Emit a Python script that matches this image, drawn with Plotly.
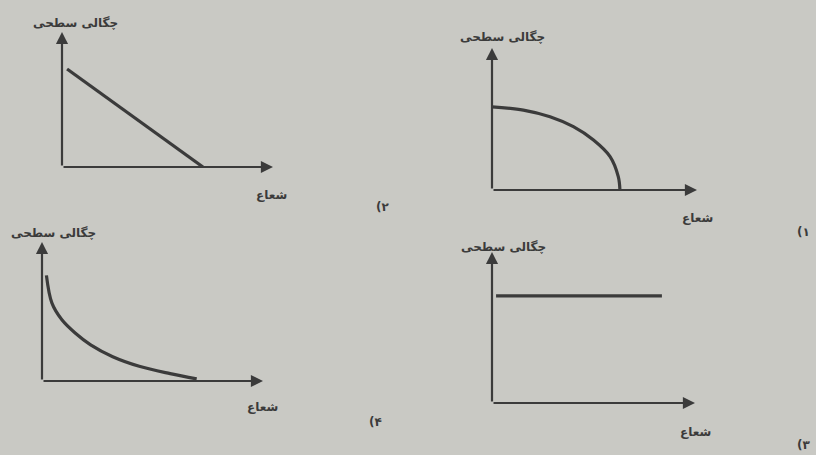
import plotly.graph_objects as go

W, H = 816, 455

# داده‌ها (واحد دلخواه، محور 0..10)
r1 = [0.0, 1.53, 2.83, 3.97, 4.95, 5.76, 6.16, 6.24]
s1 = [5.85, 5.63, 5.16, 4.46, 3.52, 2.35, 0.94, 0.0]

r2 = [0.24, 6.68]
s2 = [7.26, 0.0]

r3 = [0.2, 8.37]
s3 = [7.1, 7.1]

r4 = [0.2, 0.45, 0.9, 1.5, 2.2, 3.2, 4.4, 5.8, 7.0]
s4 = [7.6, 5.6, 4.4, 3.45, 2.6, 1.75, 1.06, 0.53, 0.15]

y_title = "چگالی سطحی"
x_title = "شعاع"
numbers = ["\u200e(۱", "\u200e(۲", "\u200e(۳", "\u200e(۴"]

INK = "#3b3b3b"
PAPER = "#c9c9c4"

# جای هر نمودار به پیکسل: (مبدا x، نوک محور x، مبدا y، نوک محور y)
boxes = [
    (492, 697, 190, 48),
    (62, 273, 167, 32),
    (492, 695, 403, 252),
    (42, 263, 381, 242),
]
# جای متن‌ها به پیکسل: برچسب y، برچسب x، شماره
text_pos = [
    ((502, 37), (697, 218), (803, 232)),
    ((75, 23), (271, 195), (382, 207)),
    ((503, 247), (695, 432), (803, 445)),
    ((53, 233), (262, 407), (375, 422)),
]

series = [(r1, s1), (r2, s2), (r3, s3), (r4, s4)]

fig = go.Figure()
layout = dict(
    width=W, height=H,
    margin=dict(l=0, r=0, t=0, b=0),
    paper_bgcolor=PAPER, plot_bgcolor=PAPER,
    showlegend=False,
    annotations=[],
)

def px(x):
    return x / W

def py(y):
    return 1 - y / H

for i, ((x0, x1, y0, y1), (r, s)) in enumerate(zip(boxes, series)):
    n = "" if i == 0 else str(i + 1)
    fig.add_trace(go.Scatter(
        x=r, y=s, mode="lines",
        line=dict(color=INK, width=3.2, shape="spline", smoothing=1.0),
        xaxis="x" + n, yaxis="y" + n,
        hoverinfo="skip",
    ))
    ax_common = dict(showgrid=False, zeroline=False, showticklabels=False,
                     ticks="", showline=False, fixedrange=True)
    layout["xaxis" + n] = dict(domain=[px(x0), px(x1)], range=[0, 10],
                               anchor="y" + n, **ax_common)
    layout["yaxis" + n] = dict(domain=[py(y0), py(y1)], range=[0, 10],
                               anchor="x" + n, **ax_common)
    xr, yr = "x" + n + " domain", "y" + n + " domain"
    for tx, ty in [(1, 0), (0, 1)]:
        layout["annotations"].append(dict(
            x=tx, y=ty, ax=0, ay=0, xref=xr, yref=yr, axref=xr, ayref=yr,
            text="", showarrow=True, arrowhead=2, arrowsize=1.1,
            arrowwidth=2.2, arrowcolor=INK,
        ))
    (yl, xl, nl) = text_pos[i]
    for (tx, ty), t, sz in [(yl, y_title, 12), (xl, x_title, 12), (nl, numbers[i], 12)]:
        layout["annotations"].append(dict(
            x=px(tx), y=py(ty), xref="paper", yref="paper",
            text="<b>" + t + "</b>", showarrow=False,
            font=dict(family="DejaVu Sans", size=sz, color=INK),
            xanchor="center", yanchor="middle",
        ))

fig.update_layout(**layout)
fig.write_html("out.html", config={"displayModeBar": False},
               post_script="document.body.style.margin='0';")
